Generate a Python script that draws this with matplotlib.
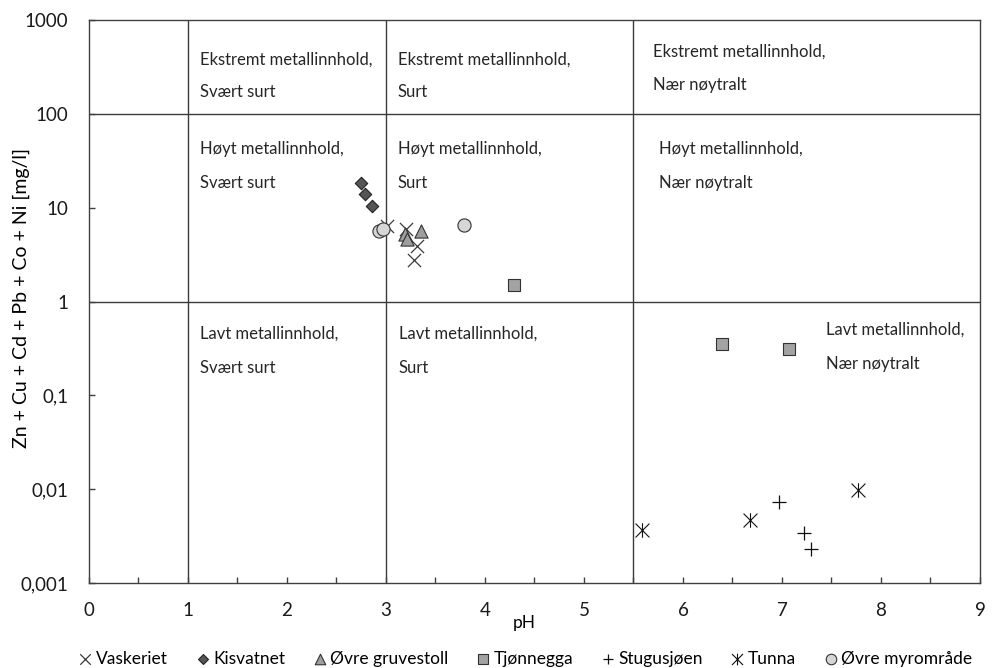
import matplotlib
matplotlib.use('Agg')
import matplotlib.pyplot as plt
from matplotlib.path import Path
from matplotlib.ticker import FixedLocator, FixedFormatter, NullLocator, MultipleLocator

plt.rcParams['font.family'] = ['Lato', 'DejaVu Sans']

# data (pH, sum of metals in mg/l)
vaskeriet_ph = [3.01, 3.20, 3.31, 3.28]
vaskeriet_val = [6.4, 6.0, 3.9, 2.8]
kisvatnet_ph = [2.75, 2.79, 2.86]
kisvatnet_val = [18.4, 14.1, 10.3]
gruvestoll_ph = [3.19, 3.21, 3.35]
gruvestoll_val = [5.3, 4.6, 5.7]
tjonnegga_ph = [4.29, 6.39, 7.07]
tjonnegga_val = [1.5, 0.35, 0.31]
stugusjoen_ph = [6.97, 7.22, 7.29]
stugusjoen_val = [0.0073, 0.0034, 0.0023]
tunna_ph = [5.59, 6.68, 7.77]
tunna_val = [0.0037, 0.0047, 0.0099]
myr_ph = [2.93, 2.97, 3.79]
myr_val = [5.7, 6.0, 6.6]

y_ticks = [0.001, 0.01, 0.1, 1, 10, 100, 1000]
y_labels = ['0,001', '0,01', '0,1', '1', '10', '100', '1000']

# class boundaries
ph_lines = [1, 3, 5.5]
metal_lines = [1, 100]

zone_text = [
    (1.12, 380, 'Ekstremt metallinnhold,'), (1.12, 173, 'Svært surt'),
    (3.12, 380, 'Ekstremt metallinnhold,'), (3.12, 173, 'Surt'),
    (5.7, 462, 'Ekstremt metallinnhold,'), (5.7, 201, 'Nær nøytralt'),
    (1.12, 41.9, 'Høyt metallinnhold,'), (1.12, 18.2, 'Svært surt'),
    (3.12, 41.9, 'Høyt metallinnhold,'), (3.12, 18.2, 'Surt'),
    (5.76, 41.9, 'Høyt metallinnhold,'), (5.76, 18.2, 'Nær nøytralt'),
    (1.12, 0.451, 'Lavt metallinnhold,'), (1.12, 0.196, 'Svært surt'),
    (3.13, 0.451, 'Lavt metallinnhold,'), (3.13, 0.196, 'Surt'),
    (7.44, 0.497, 'Lavt metallinnhold,'), (7.44, 0.216, 'Nær nøytralt'),
]

# x with a vertical stroke, like the Excel marker
star_path = Path([(-1, -1), (1, 1), (-1, 1), (1, -1), (0, -1.05), (0, 1.05)],
                 [Path.MOVETO, Path.LINETO, Path.MOVETO, Path.LINETO, Path.MOVETO, Path.LINETO])

fig = plt.figure(figsize=(10.01, 6.68), dpi=100)
ax = fig.add_axes([0.0889, 0.1272, 0.8901, 0.8428])

line_col = '#3a3a3a'
for x in ph_lines:
    ax.axvline(x, color=line_col, lw=1.0, zorder=1)
for y in metal_lines:
    ax.axhline(y, color=line_col, lw=1.0, zorder=1)

for x, y, t in zone_text:
    ax.text(x, y, t, fontsize=12, color='#262626', va='center', ha='left', zorder=2)

ax.scatter(vaskeriet_ph, vaskeriet_val, marker='x', s=90, color='#3c3c3c', linewidths=0.9, label='Vaskeriet', zorder=3)
ax.scatter(kisvatnet_ph, kisvatnet_val, marker='D', s=40, color='#555555', edgecolors='#222222', linewidths=0.8, label='Kisvatnet', zorder=3)
ax.scatter(gruvestoll_ph, gruvestoll_val, marker='^', s=90, color='#9e9e9e', edgecolors='#333333', linewidths=0.8, label='Øvre gruvestoll', zorder=3)
ax.scatter(tjonnegga_ph, tjonnegga_val, marker='s', s=80, color='#a3a3a3', edgecolors='#333333', linewidths=0.8, label='Tjønnegga', zorder=3)
ax.scatter(stugusjoen_ph, stugusjoen_val, marker='+', s=95, color='#111111', linewidths=0.9, label='Stugusjøen', zorder=3)
ax.scatter(tunna_ph, tunna_val, marker=star_path, s=110, color='#111111', linewidths=0.8, label='Tunna', zorder=3)
ax.scatter(myr_ph, myr_val, marker='o', s=90, color='#d6d6d6', edgecolors='#333333', linewidths=0.8, label='Øvre myrområde', zorder=3)

ax.set_yscale('log')
ax.set_xlim(0, 9)
ax.set_ylim(0.001, 1000)
ax.set_xticks(range(0, 10))
ax.xaxis.set_minor_locator(MultipleLocator(0.5))
ax.yaxis.set_major_locator(FixedLocator(y_ticks))
ax.yaxis.set_major_formatter(FixedFormatter(y_labels))
ax.yaxis.set_minor_locator(NullLocator())
ax.tick_params(axis='both', which='both', direction='in', length=4.5, width=1, color='#404040',
               labelsize=13.5, labelcolor='#1a1a1a')
ax.tick_params(axis='x', pad=14)
ax.tick_params(axis='y', pad=15)
for s in ax.spines.values():
    s.set_color('#404040')
    s.set_linewidth(1.0)

ax.set_xlabel('pH', fontsize=12.5)
ax.xaxis.set_label_coords(0.488, -0.057)
ax.set_ylabel('Zn + Cu + Cd + Pb + Co + Ni [mg/l]', fontsize=14)
ax.yaxis.set_label_coords(-0.066, 0.506)

fig.legend(loc='center', bbox_to_anchor=(0.524, 0.0135), ncol=7, frameon=False,
           fontsize=12.5, handletextpad=0.1, columnspacing=1.5, handlelength=1.0,
           scatterpoints=1, markerscale=0.8)

fig.savefig('out.png', dpi=100)
